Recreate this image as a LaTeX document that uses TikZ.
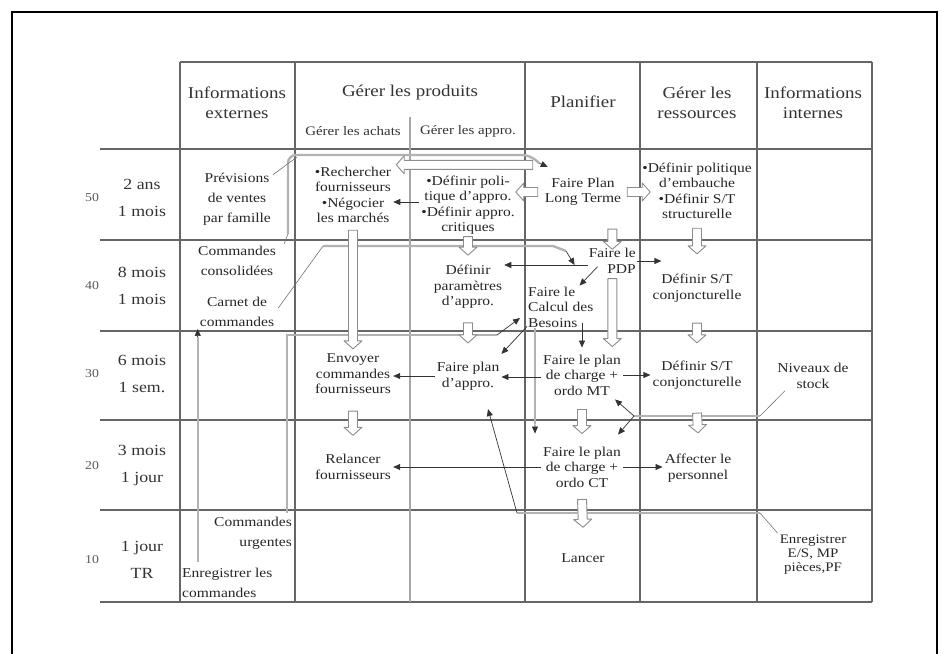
\documentclass[tikz,border=0pt]{standalone}
\usepackage{fontspec}
\setmainfont{Liberation Serif}[FakeStretch=1.15]
\usetikzlibrary{arrows.meta,calc}

\tikzset{
  grille/.style={draw=black!60, line width=1.3pt},
  entete/.style={font=\fontsize{16.5}{20}\selectfont, align=center, text=black!80},
  sousent/.style={font=\fontsize{13}{15}\selectfont, text=black!80},
  delai/.style={font=\fontsize{15.5}{27}\selectfont, align=center, text=black!80},
  horizon/.style={font=\fontsize{12}{14}\selectfont, text=black!65},
  cellule/.style={font=\fontsize{13.5}{15.5}\selectfont, align=center, inner sep=2pt, text=black!85},
  cellext/.style={cellule, font=\fontsize{13.5}{20}\selectfont},
  fleche/.style={draw=black!80, line width=0.7pt, -{Triangle[length=7pt,width=6pt]}},
  info/.style={draw=black!30, line width=2.4pt},
  fil/.style={draw=black!55, line width=0.6pt},
  creux/.style={draw=black!45, fill=white, line width=0.9pt, line join=round,
    to path={let \p1=(\tikztostart), \p2=(\tikztotarget) in
      ($(\p1)!4.5pt!90:(\p2)$) -- ($($(\p2)!8pt!(\p1)$)!4.5pt!-90:(\p1)$)
      -- ($($(\p2)!8pt!(\p1)$)!9pt!-90:(\p1)$) -- (\p2)
      -- ($($(\p2)!8pt!(\p1)$)!9pt!90:(\p1)$) -- ($($(\p2)!8pt!(\p1)$)!4.5pt!90:(\p1)$)
      -- ($(\p1)!4.5pt!-90:(\p2)$) -- cycle}}
}

\begin{document}
\begin{tikzpicture}[x=1pt, y=-1pt]
\useasboundingbox (0,0) rectangle (949,653);
\draw[line width=2.5pt] (12,660) |- (937,12) -- (937,660);

% grille
\draw[grille] (180,62) -- (872,62);
\foreach \y in {149,240,331,602}
  \draw[grille] (100,\y) -- (872,\y);
\foreach \y in {420,510}
  \draw[grille, line width=2.2pt] (100,\y) -- (872,\y);
\foreach \x in {180,295,525,640,757,872}
  \draw[grille] (\x,62) -- (\x,602);
\draw[grille, draw=black!35, line width=1.8pt] (410,117) -- (410,602);

% en-tetes
\node[entete] (ext) at (237,103) {Informations\\externes};
\node[entete] (prod) at (410,93) {Gérer les produits};
\node[sousent] (achats) at (353,131) {Gérer les achats};
\node[sousent] (approT) at (468,131) {Gérer les appro.};
\node[entete] (planif) at (583,102) {Planifier};
\node[entete] (ress) at (697,103) {Gérer les\\ressources};
\node[entete] (intern) at (813,103) {Informations\\internes};

% horizons et periodes
\foreach \h/\y/\d in {50/198/{2 ans\\1 mois}, 40/286/{8 mois\\1 mois},
    30/374/{6 mois\\1 sem.}, 20/466/{3 mois\\1 jour}, 10/560/{1 jour\\TR}} {
  \node[horizon] (h\h) at (92,\y) {\h};
  \node[delai] (d\h) at (142,\y) {\d};
}

% informations externes
\node[cellext] (prev) at (237,199) {Prévisions\\de ventes\\par famille};
\node[cellext] (consol) at (237,261) {Commandes\\consolidées};
\node[cellext] (carnet) at (237,312) {Carnet de\\commandes};
\node[cellext, align=right, anchor=east, inner sep=1pt] (urg) at (293,533) {Commandes\\urgentes};
\node[cellext, align=left, anchor=west, inner sep=1pt] (enrc) at (181,583) {Enregistrer les\\commandes};

% activites
\node[cellule] (rech) at (353,195) {•Rechercher\\fournisseurs\\•Négocier\\les marchés};
\node[cellule] (polit) at (468,205) {•Définir poli-\\tique d'appro.\\•Définir appro.\\critiques};
\node[cellule] (plt) at (583,192) {Faire Plan\\Long Terme};
\node[cellule, inner sep=0pt] (embau) at (697,191) {•Définir politique\\d'embauche\\•Définir S/T\\structurelle};
\node[cellule] (param) at (468,287) {Définir\\paramètres\\d'appro.};
\node[cellule, align=right, anchor=east, inner sep=1pt] (pdp) at (637,261) {Faire le\\PDP};
\node[cellule, align=left, anchor=west, inner sep=1pt] (besoins) at (527,307) {Faire le\\Calcul des\\Besoins};
\node[cellule] (conj1) at (697,288) {Définir S/T\\conjoncturelle};
\node[cellule] (envoi) at (353,374) {Envoyer\\commandes\\fournisseurs};
\node[cellule] (planappro) at (468,376) {Faire plan\\d'appro.};
\node[cellule] (mt) at (582,375) {Faire le plan\\de charge +\\ordo MT};
\node[cellule] (conj2) at (697,375) {Définir S/T\\conjoncturelle};
\node[cellule] (stock) at (813,376) {Niveaux de\\stock};
\node[cellule] (relance) at (353,467) {Relancer\\fournisseurs};
\node[cellule] (ct) at (582,467) {Faire le plan\\de charge +\\ordo CT};
\node[cellule] (affect) at (698,468) {Affecter le\\personnel};
\node[cellule] (lancer) at (583,558) {Lancer};
\node[cellule, font=\fontsize{13}{14}\selectfont] (enres) at (813,555) {Enregistrer\\E/S, MP\\pièces,PF};

% points de jonction des flux d'information
\coordinate (jprev) at (297,157);
\coordinate (jcons) at (288,234);
\coordinate (jplt) at (539,163);
\coordinate (jcar) at (323,246);
\coordinate (jpdp) at (566,251);
\coordinate (jurg) at (497,335);
\coordinate (jenr) at ([yshift=-8pt]carnet.south west);
\coordinate (jbes) at ([xshift=8pt,yshift=-96pt]besoins.south west);
\coordinate (jstk) at (760,416);
\coordinate (jst) at (634,416);
\coordinate (jes2) at (760,513);
\coordinate (jes) at (517,513);

% flux d'information
\draw[info, rounded corners=8pt] (jcons) |- (530,155) -- (jplt);
\draw[fil] ([yshift=-4pt]prev.north east) -- (jprev);
\draw[fil] ([xshift=6pt]consol.north east) -- (jcons);
\draw[fleche] (jplt) -- ([xshift=5pt,yshift=9pt]plt.north west);
\draw[fil] ([xshift=2pt,yshift=4pt]carnet.east) -- (jcar);
\draw[info] (jcar) -- (553,246) -- (jpdp);
\draw[fleche] (jpdp) -- ([xshift=-13pt,yshift=-4pt]pdp.west);
\draw[info] ([xshift=-6pt,yshift=3pt]urg.north east) |- (jurg);
\draw[fleche] (jurg) -- ([xshift=-7pt,yshift=-11pt]besoins.west);
\draw[info] ([yshift=5pt]jenr |- enrc.north) -- (jenr);
\draw[fleche] (jenr) -- (carnet.south west);
\draw[info] ([xshift=8pt]besoins.south west) -- (jbes);
\draw[fleche] (jbes) -- ([xshift=-6pt,yshift=11pt]ct.north west);
\draw[fil] ([xshift=-28pt]stock.south) -- (jstk);
\draw[info] (jstk) -- (jst);
\draw[fleche] (jst) -- ([xshift=-8pt,yshift=-2pt]mt.south east);
\draw[fleche] (jst) -- ([xshift=-5pt,yshift=10pt]ct.north east);
\draw[fil] (enres.north west) -- (jes2);
\draw[info] (jes2) -- (jes);
\draw[fleche] (jes) -- ([xshift=20pt,yshift=-17pt]planappro.south);

% flux physiques (fleches creuses)
\draw[creux] ([xshift=-10pt]plt.west |- rech.north east) to ([xshift=3pt]rech.north east);
\draw[creux] ([xshift=-5pt]plt.west) to ([xshift=-27pt]plt.west);
\draw[creux] ([xshift=4pt]plt.east) to ([xshift=27pt]plt.east);
\draw[creux] ([yshift=-5pt]rech.south) to ([yshift=3pt]envoi.north);
\draw[creux] (polit.south) to ([yshift=8pt]param.north);
\draw[creux] ([yshift=-21pt]plt.south -| pdp.north) to ([yshift=-2pt]pdp.north);
\draw[creux] ([yshift=-9pt]embau.south) to ([yshift=18pt]conj1.north);
\draw[creux] ([yshift=-4pt]pdp.south) to ([yshift=6pt]pdp.south |- mt.north);
\draw[creux] ([yshift=-12pt]param.south) to ([yshift=17pt]planappro.north);
\draw[creux] ([yshift=-19pt]conj1.south) to ([yshift=16pt]conj2.north);
\draw[creux] ([yshift=-15pt]envoi.south) to ([yshift=17pt]relance.north);
\draw[creux] ([yshift=-12pt]mt.south) to ([yshift=11pt]ct.north);
\draw[creux] ([yshift=-22pt]conj2.south) to ([yshift=19pt]affect.north);
\draw[creux] ([yshift=-10pt]ct.south) to ([yshift=24pt]lancer.north);

% flux de decision
\draw[fleche] ([yshift=3pt]polit.west) -- ([yshift=3pt]polit.west -| rech.east);
\draw[fleche] ([yshift=-4pt]pdp.west) -- ([yshift=-4pt]pdp.west -| param.east);
\draw[fleche] (pdp.east) -- ([xshift=11pt]pdp.east -| conj1.west);
\draw[fleche] ([xshift=10pt,yshift=8pt]pdp.south west) -- ([xshift=-15pt]besoins.north east);
\draw[fleche] ([yshift=2pt]besoins.south west) -- ([yshift=6pt]planappro.north east);
\draw[fleche] ([yshift=5pt]besoins.south -| mt.north) -- ([yshift=5pt]mt.north);
\draw[fleche] ([yshift=-2pt]mt.west) -- ([yshift=-2pt]mt.west -| planappro.east);
\draw[fleche] (planappro.west) -- (planappro.west -| envoi.east);
\draw[fleche] (mt.east) -- (mt.east -| conj2.west);
\draw[fleche] (ct.west) -- (ct.west -| relance.east);
\draw[fleche] (ct.east) -- (ct.east -| affect.west);
\end{tikzpicture}
\end{document}
